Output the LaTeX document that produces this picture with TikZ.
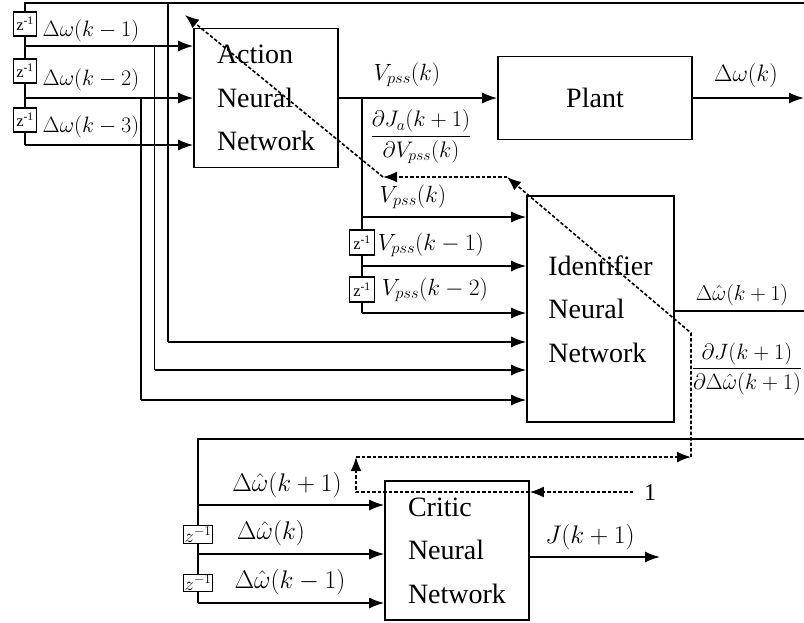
\RequirePackage{fix-cm}
\documentclass[tikz,border=0pt]{standalone}
\usepackage{amsmath}
\usepackage{fontspec}
\setmainfont{Liberation Serif}
\usetikzlibrary{arrows.meta}
\newcommand{\fs}[1]{\fontsize{#1}{#1}\selectfont}
\begin{document}
\begin{tikzpicture}[x=1pt,y=1pt,
 wire/.style={line width=1.6pt},
 arr/.style={wire,-{Latex[length=15pt,width=11pt]}},
 back/.style={line width=1.6pt,dash pattern=on 3.5pt off 2pt},
 backarr/.style={back,-{Latex[length=14pt,width=11pt]}},
 nnbox/.style={draw,line width=1.6pt,align=left,font=\fontsize{28}{43.5}\selectfont,inner sep=0pt},
 delay/.style={draw,line width=1.4pt,fill=white,inner sep=0pt,minimum width=23pt,minimum height=24pt,font=\fs{16.5}},
 cdelay/.style={draw,line width=1.4pt,fill=white,inner sep=1pt,minimum width=25pt,minimum height=17pt,font=\fs{19}},
 lbl/.style={inner sep=0pt,font=\fs{22.2}}]
\useasboundingbox (0,0) rectangle (804,-622);

% blocks
\node[nnbox,minimum width=144pt,minimum height=139pt] (action) at (266,-98) {Action\\Neural\\Network};
\node[nnbox,minimum width=194pt,minimum height=83pt] (plant) at (595,-98) {Plant};
\node[nnbox,minimum width=147pt,minimum height=226pt] (ident) at (600.5,-309) {Identifier\\Neural\\Network};
\node[nnbox,minimum width=144pt,minimum height=139pt] (critic) at (457,-550.5) {Critic\\Neural\\Network};

% delays
\node[delay] (d1) at (25,-24) {z\textsuperscript{-1}};
\node[delay] (d2) at (25,-71) {z\textsuperscript{-1}};
\node[delay] (d3) at (25,-120) {z\textsuperscript{-1}};
\node[delay,minimum width=25pt,minimum height=25pt] (v1) at (362,-242.5) {z\textsuperscript{-1}};
\node[delay,minimum width=25pt,minimum height=25pt] (v2) at (362,-289.5) {z\textsuperscript{-1}};
\node[cdelay] (c1) at (198,-534.5) {$z^{-1}$};
\node[cdelay] (c2) at (198,-583) {$z^{-1}$};

% labels
\node[lbl] (l1) at (91,-31) {$\Delta\omega(k-1)$};
\node[lbl] (l2) at (91,-80) {$\Delta\omega(k-2)$};
\node[lbl] (l3) at (91,-127) {$\Delta\omega(k-3)$};
\node[lbl,font=\fs{23.5}] (vp0) at (407,-75) {$V_{pss}(k)$};
\node[lbl,font=\fs{22.5}] (fa) at (421,-137) {$\dfrac{\partial J_a(k+1)}{\partial V_{pss}(k)}$};
\node[lbl,font=\fs{23.8}] (pw) at (746,-76) {$\Delta\omega(k)$};
\node[lbl,font=\fs{23.5}] (vp1) at (413,-197) {$V_{pss}(k)$};
\node[lbl,font=\fs{23.5}] (vp2) at (431,-245) {$V_{pss}(k-1)$};
\node[lbl,font=\fs{23.5}] (vp3) at (435,-290) {$V_{pss}(k-2)$};
\node[lbl,font=\fs{21.5}] (iw) at (742,-295) {$\Delta\hat{\omega}(k+1)$};
\node[lbl,font=\fs{22.2}] (fi) at (747,-369) {$\dfrac{\partial J(k+1)}{\partial\Delta\hat{\omega}(k+1)}$};
\node[lbl,font=\fs{25.5}] (cw1) at (287,-485) {$\Delta\hat{\omega}(k+1)$};
\node[lbl,font=\fs{25.5}] (cw2) at (271,-533) {$\Delta\hat{\omega}(k)$};
\node[lbl,font=\fs{25.5}] (cw3) at (290,-582) {$\Delta\hat{\omega}(k-1)$};
\node[lbl,font=\fs{25.5}] (jo) at (590,-537) {$J(k+1)$};
\node[lbl,font=\fs{24}] (n1) at (650,-493) {1};

% coordinates
\coordinate (t0) at (25,-3);
\coordinate (tR) at (804,-3);
\coordinate (a1) at (25,-46);
\coordinate (a2) at (25,-98);
\coordinate (a3) at (25,-145);
\coordinate (b0) at (168,-3);
\coordinate (b0e) at (168,-342);
\coordinate (b1) at (154.5,-46);
\coordinate (b1e) at (154.5,-370);
\coordinate (b2) at (141,-98);
\coordinate (b2e) at (141,-400);
\coordinate (o1) at (362,-98);
\coordinate (o2) at (362,-217);
\coordinate (o3) at (362,-266);
\coordinate (o4) at (362,-313);
\coordinate (pe) at (804,-98);
\coordinate (ioR) at (804,-311);
\coordinate (cR) at (804,-439);
\coordinate (cL) at (198,-439);
\coordinate (ce1) at (198,-505);
\coordinate (ce2) at (198,-554);
\coordinate (ce3) at (198,-603);
\coordinate (jE) at (660,-557);

% delay chain into action network
\draw[wire] (tR) -- (t0) -- (d1.north);
\draw[wire] (d1.south) -- (d2.north);
\draw[wire] (d2.south) -- (d3.north);
\draw[wire] (d3.south) -- (a3);
\draw[arr] (a1) -- (a1 -| action.west);
\draw[arr] (a2) -- (a2 -| action.west);
\draw[arr] (a3) -- (a3 -| action.west);

% speed signals into identifier
\draw[wire] (b0) -- (b0e);
\draw[arr] (b0e) -- (b0e -| ident.west);
\draw[wire] (b1) -- (b1e);
\draw[arr] (b1e) -- (b1e -| ident.west);
\draw[wire] (b2) -- (b2e);
\draw[arr] (b2e) -- (b2e -| ident.west);

% action output
\draw[arr] (action.east) -- (plant.west);
\draw[arr] (plant.east) -- (pe);
\draw[wire] (o1) -- (v1.north);
\draw[wire] (v1.south) -- (v2.north);
\draw[wire] (v2.south) -- (o4);
\draw[arr] (o2) -- (o2 -| ident.west);
\draw[arr] (o3) -- (o3 -| ident.west);
\draw[arr] (o4) -- (o4 -| ident.west);

% identifier output
\draw[wire] (ioR -| ident.east) -- (ioR);

% critic inputs
\draw[wire] (cR) -- (cL) -- (c1.north);
\draw[wire] (c1.south) -- (c2.north);
\draw[wire] (c2.south) -- (ce3);
\draw[arr] (ce1) -- (ce1 -| critic.west);
\draw[arr] (ce2) -- (ce2 -| critic.west);
\draw[arr] (ce3) -- (ce3 -| critic.west);
\draw[arr] (jE -| critic.east) -- (jE);

% back-propagation path
\coordinate (q0) at (633,-492);
\coordinate (q1) at (356,-492);
\coordinate (q2) at (356,-457);
\coordinate (q3) at (691,-457);
\coordinate (q4) at (691,-333);
\coordinate (q5) at (507,-177);
\coordinate (q6) at (383,-177);
\coordinate (q7) at (185,-15);
\draw[backarr] (q0) -- (q0 -| critic.east);
\draw[backarr] (q0 -| critic.east) -- (q1) -- (q2);
\draw[backarr] (q2) -- (q3);
\draw[backarr] (q3) -- (q4) -- (q5);
\draw[backarr] (q5) -- (q6);
\draw[backarr] (q6) -- (q7);
\end{tikzpicture}
\end{document}
